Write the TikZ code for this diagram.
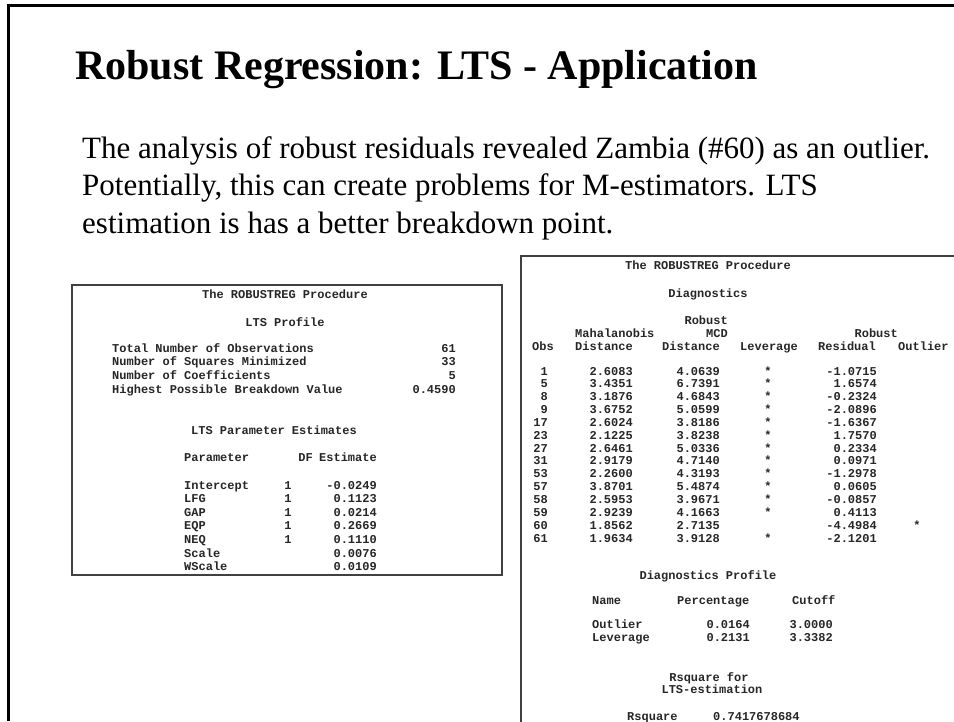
\documentclass[tikz,border=0pt]{standalone}
\usepackage{fontspec}
\setmainfont{Liberation Serif}
\newfontfamily\sasfont{Liberation Mono}
\usetikzlibrary{positioning}

\tikzset{
  sas/.style={font=\sasfont\bfseries\fontsize{12}{12}\selectfont, inner sep=0pt, text=black!85},
  sasw/.style={sas, anchor=base west},
  sase/.style={sas, anchor=base east},
  sasc/.style={sas, anchor=base},
  frameline/.style={line width=3pt, black},
  sasbox/.style={line width=1.6pt, black!75},
  bodytext/.style={anchor=base west, inner sep=0pt, font=\fontsize{31}{32}\selectfont}
}

\begin{document}
\begin{tikzpicture}[x=1pt,y=-1pt]
\useasboundingbox (0,0) rectangle (954,721);
% slide frame
\draw[frameline] (8,721) -- (8,5) -- (954,5);
\node[anchor=base west, inner sep=0pt, font=\bfseries\fontsize{42}{44}\selectfont] (title) at (75,79) {Robust Regression: LTS - Application};
\node[bodytext] (para1) at (82,158) {The analysis of robust residuals revealed Zambia (\#60) as an outlier.};
\node[bodytext] (para2) at (82,195.5) {Potentially, this can create problems for M-estimators. LTS};
\node[bodytext] (para3) at (82,233) {estimation is has a better breakdown point.};

% left output: LTS profile
\draw[sasbox] (72,285) rectangle (502,575);
\node[sasc] (lproc) at (285,298) {The ROBUSTREG Procedure};
\node[sasc] (lprof) at (285,326) {LTS Profile};
\foreach \i/\lab/\val in {0/Total Number of Observations/61,
                          1/Number of Squares Minimized/33,
                          2/Number of Coefficients/5,
                          3/Highest Possible Breakdown Value/0.4590}{
  \node[sasw] (plab\i) at (112,352+13.7*\i) {\lab};
  \node[sase] (pval\i) at (456,352+13.7*\i) {\val};
}
\node[sasc] (esttitle) at (274,434) {LTS Parameter Estimates};
\node[sasw] (hpar) at (184,461) {Parameter};
\node[sase] (hdf) at (313,461) {DF};
\node[sase] (hest) at (377,461) {Estimate};
\foreach \i/\pname/\est in {0/Intercept/-0.0249, 1/LFG/0.1123, 2/GAP/0.0214,
                          3/EQP/0.2669, 4/NEQ/0.1110}{
  \node[sasw] (epar\i) at (184,489+13.6*\i) {\pname};
  \node[sasc] (edf\i) at (288,489+13.6*\i) {1};
  \node[sase] (eest\i) at (377,489+13.6*\i) {\est};
}
\foreach \i/\pname/\est in {5/Scale/0.0076, 6/WScale/0.0109}{
  \node[sasw] (epar\i) at (184,489+13.6*\i) {\pname};
  \node[sase] (eest\i) at (377,489+13.6*\i) {\est};
}

% right output: diagnostics
\draw[sasbox] (956,256) -- (521,256) -- (521,723);
\node[sasc] (rproc) at (708,269) {The ROBUSTREG Procedure};
\node[sasc] (rdiag) at (708,297) {Diagnostics};
\node[sase] (hrob1) at (728,324) {Robust};
\node[sasw] (hmah) at (575,337) {Mahalanobis};
\node[sase] (hmcd) at (728,337) {MCD};
\node[sase] (hrob2) at (898,337) {Robust};
\node[sasw] (hobs) at (532,350) {Obs};
\node[sasw] (hdist1) at (575,350) {Distance};
\node[sase] (hdist2) at (720,350) {Distance};
\node[sasw] (hlev) at (740,350) {Leverage};
\node[sasw] (hres) at (818,350) {Residual};
\node[sasw] (hout) at (898,350) {Outlier};
\foreach \obs/\md/\rd/\res [count=\i from 0] in {1/2.6083/4.0639/-1.0715,
    5/3.4351/6.7391/1.6574, 8/3.1876/4.6843/-0.2324, 9/3.6752/5.0599/-2.0896,
    17/2.6024/3.8186/-1.6367, 23/2.1225/3.8238/1.7570, 27/2.6461/5.0336/0.2334,
    31/2.9179/4.7140/0.0971, 53/2.2600/4.3193/-1.2978, 57/3.8701/5.4874/0.0605,
    58/2.5953/3.9671/-0.0857, 59/2.9239/4.1663/0.4113, 60/1.8562/2.7135/-4.4984,
    61/1.9634/3.9128/-2.1201}{
  \node[sase] (obs\i) at (548,375+12.85*\i) {\obs};
  \node[sase] (md\i) at (633,375+12.85*\i) {\md};
  \node[sase] (rd\i) at (720,375+12.85*\i) {\rd};
  \node[sase] (res\i) at (877,375+12.85*\i) {\res};
}
\foreach \i in {0,...,11,13}
  \node[sasc] (lev\i) at (768,375+12.85*\i) {*};
\node[sasc] (out12) at (917,375+12.85*12) {*};

\node[sasc] (dprof) at (708,579) {Diagnostics Profile};
\node[sasw] (hname) at (592,604) {Name};
\node[sasw] (hpct) at (677,604) {Percentage};
\node[sasw] (hcut) at (792,604) {Cutoff};
\foreach \i/\nm/\pct/\cut in {0/Outlier/0.0164/3.0000, 1/Leverage/0.2131/3.3382}{
  \node[sasw] (dname\i) at (592,628+13*\i) {\nm};
  \node[sase] (dpct\i) at (750,628+13*\i) {\pct};
  \node[sase] (dcut\i) at (833,628+13*\i) {\cut};
}
\node[sasc] (rsqa) at (709,681) {Rsquare for};
\node[sasc] (rsqb) at (712,693) {LTS-estimation};
\node[sasw] (rsqlab) at (627,720) {Rsquare};
\node[sasw] (rsqval) at (713,720) {0.7417678684};
\end{tikzpicture}
\end{document}
